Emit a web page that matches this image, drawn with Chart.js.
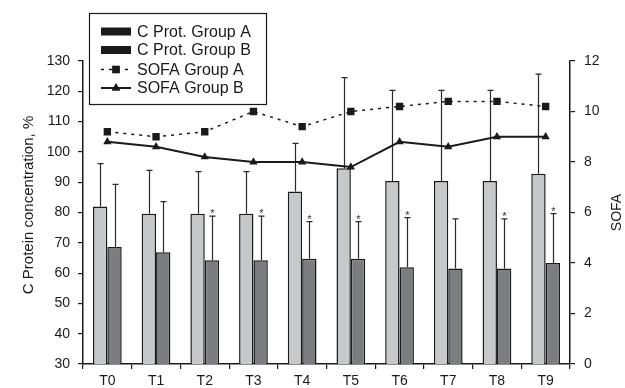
<!DOCTYPE html>
<html>
<head>
<meta charset="utf-8">
<script src="https://cdn.jsdelivr.net/npm/chart.js@4"></script>
<style>
  html, body { margin: 0; padding: 0; background: #fff; }
  #wrap { width: 625px; height: 388px; }
</style>
</head>
<body>
<div id="wrap"><canvas id="chart" width="625" height="388"></canvas></div>
<script>
const LABELS = ['T0', 'T1', 'T2', 'T3', 'T4', 'T5', 'T6', 'T7', 'T8', 'T9'];

// C protein concentration (%), mean and upper SD
const CPROT_A = [82, 79.6, 79.6, 79.6, 86.9, 94.6, 90.4, 90.4, 90.4, 92.8];
const CPROT_A_SD = [14.1, 14.3, 13.9, 13.9, 15.9, 29.9, 29.9, 29.9, 29.9, 32.9];
const CPROT_B = [68.6, 66.9, 64.2, 64.2, 64.7, 64.7, 61.9, 61.5, 61.5, 63.3];
const CPROT_B_SD = [20.7, 16.7, 14.6, 14.6, 12.3, 12.3, 16.4, 16.4, 16.4, 16.3];
// significant difference between groups
const SIGNIF = [false, false, true, true, true, true, true, false, true, true];

// SOFA score
const SOFA_A = [9.2, 9.0, 9.2, 10.0, 9.4, 10.0, 10.2, 10.4, 10.4, 10.2];
const SOFA_B = [8.8, 8.6, 8.2, 8.0, 8.0, 7.8, 8.8, 8.6, 9.0, 9.0];

const FONT = '"Liberation Sans", Arial, Helvetica, sans-serif';
const INK = '#1a1a1a';
const LIGHT_BAR = '#c7c8ca';
const DARK_BAR = '#7c7d80';

const errorBars = {
  id: 'errorBars',
  beforeDatasetsDraw(chart) {
    const ctx = chart.ctx;
    const y = chart.scales.y;
    ctx.save();
    ctx.strokeStyle = '#2a2a2a';
    ctx.lineWidth = 1.2;
    [[0, CPROT_A, CPROT_A_SD], [1, CPROT_B, CPROT_B_SD]].forEach(([idx, mean, sd]) => {
      chart.getDatasetMeta(idx).data.forEach((bar, i) => {
        const x = Math.round(bar.x) + 0.5;
        const top = y.getPixelForValue(mean[i] + sd[i]);
        ctx.beginPath();
        ctx.moveTo(x, bar.y);
        ctx.lineTo(x, top);
        ctx.moveTo(x - 3, top);
        ctx.lineTo(x + 3, top);
        ctx.stroke();
        if (idx === 1 && SIGNIF[i]) {
          ctx.fillStyle = '#333';
          ctx.font = '11px ' + FONT;
          ctx.textAlign = 'center';
          ctx.textBaseline = 'alphabetic';
          ctx.fillText('*', x, top + 1);
        }
      });
    });
    ctx.restore();
  }
};

function drawVerticalText(ctx, text, x, y, size) {
  ctx.save();
  ctx.fillStyle = INK;
  ctx.font = size + 'px ' + FONT;
  ctx.textAlign = 'center';
  ctx.textBaseline = 'middle';
  ctx.translate(x, y);
  ctx.rotate(-Math.PI / 2);
  ctx.fillText(text, 0, 0);
  ctx.restore();
}

const extras = {
  id: 'extras',
  afterDraw(chart) {
    const ctx = chart.ctx;
    const area = chart.chartArea;
    // axis titles, both reading bottom to top
    drawVerticalText(ctx, 'C Protein concentration, %', 29, 205, 15);
    drawVerticalText(ctx, 'SOFA', 617, (area.top + area.bottom) / 2, 14);

    // legend box
    ctx.save();
    ctx.fillStyle = '#fff';
    ctx.strokeStyle = INK;
    ctx.lineWidth = 1.2;
    ctx.fillRect(89.5, 13.5, 177, 91);
    ctx.strokeRect(89.5, 13.5, 177, 91);
    const rows = [31.5, 50, 69.5, 88];
    const sets = chart.data.datasets;
    ctx.font = '16px ' + FONT;
    ctx.textAlign = 'left';
    ctx.textBaseline = 'middle';
    rows.forEach((ry, i) => {
      const ds = sets[i];
      ctx.fillStyle = INK;
      if (ds.type === 'bar') {
        ctx.fillRect(101, ry - 4, 30, 8);
      } else {
        ctx.strokeStyle = INK;
        ctx.lineWidth = ds.borderWidth;
        ctx.setLineDash(ds.borderDash || []);
        ctx.beginPath();
        ctx.moveTo(101, ry);
        ctx.lineTo(131, ry);
        ctx.stroke();
        ctx.setLineDash([]);
        Chart.helpers.drawPoint(ctx, {
          pointStyle: ds.pointStyle, radius: ds.pointRadius, borderWidth: 0, rotation: 0
        }, 116, ry);
        ctx.fill();
      }
      ctx.fillStyle = INK;
      ctx.fillText(ds.label, 137, ry + 1);
    });
    ctx.restore();
  }
};

new Chart(document.getElementById('chart'), {
  data: {
    labels: LABELS,
    datasets: [
      {
        type: 'bar', label: 'C Prot. Group A', data: CPROT_A, yAxisID: 'y',
        backgroundColor: LIGHT_BAR, borderColor: INK, borderWidth: 1.5,
        categoryPercentage: 0.59, barPercentage: 1, order: 2
      },
      {
        type: 'bar', label: 'C Prot. Group B', data: CPROT_B, yAxisID: 'y',
        backgroundColor: DARK_BAR, borderColor: INK, borderWidth: 1.5,
        categoryPercentage: 0.59, barPercentage: 1, order: 2
      },
      {
        type: 'line', label: 'SOFA Group A', data: SOFA_A, yAxisID: 'y1',
        borderColor: INK, borderWidth: 1.5, borderDash: [3, 5],
        pointStyle: 'rect', pointRadius: 5.2, pointBackgroundColor: INK,
        pointBorderWidth: 0, order: 1
      },
      {
        type: 'line', label: 'SOFA Group B', data: SOFA_B, yAxisID: 'y1',
        borderColor: INK, borderWidth: 2,
        pointStyle: 'triangle', pointRadius: 4.8, pointBackgroundColor: INK,
        pointBorderWidth: 0, order: 1
      }
    ]
  },
  options: {
    responsive: false,
    animation: false,
    devicePixelRatio: 1,
    layout: { padding: { top: 61, left: 0, right: 0, bottom: 0 } },
    plugins: { legend: { display: false }, tooltip: { enabled: false } },
    scales: {
      x: {
        offset: true,
        grid: { offset: true, drawOnChartArea: false, drawTicks: true, tickLength: 5, color: INK, lineWidth: 1.2 },
        border: { display: true, color: INK, width: 1.5 },
        ticks: { color: INK, font: { family: FONT, size: 14 }, padding: 4 },
        afterFit(s) { s.height = 24; }
      },
      y: {
        position: 'left', min: 30, max: 130,
        grid: { drawOnChartArea: false, drawTicks: true, tickLength: 5, color: INK, lineWidth: 1.2 },
        border: { display: true, color: INK, width: 1.5 },
        ticks: { stepSize: 10, color: INK, font: { family: FONT, size: 14 }, padding: 8 },
        afterFit(s) { s.width = 83; }
      },
      y1: {
        position: 'right', min: 0, max: 12,
        grid: { drawOnChartArea: false, drawTicks: true, tickLength: 5, color: INK, lineWidth: 1.2 },
        border: { display: true, color: INK, width: 1.5 },
        ticks: { stepSize: 2, color: INK, font: { family: FONT, size: 14 }, padding: 9 },
        afterFit(s) { s.width = 55; }
      }
    }
  },
  plugins: [errorBars, extras]
});
</script>
</body>
</html>
